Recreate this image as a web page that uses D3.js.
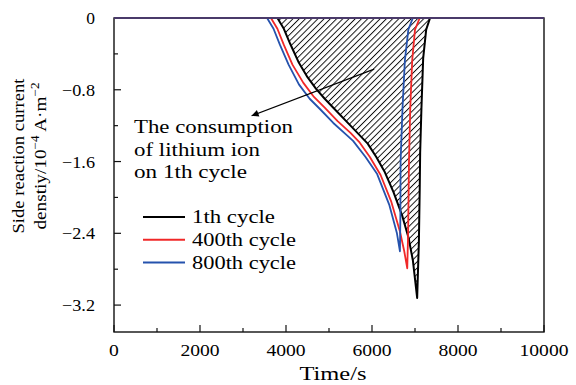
<!DOCTYPE html>
<html><head><meta charset="utf-8">
<script src="https://cdn.jsdelivr.net/npm/d3@7"></script>
<style>body{margin:0;background:#fff}svg{display:block}text{font-family:"Liberation Serif","Times New Roman",serif;fill:#000}</style>
</head><body><svg id="c" width="576" height="385"></svg>
<script>
// ---- data (time s, current density 1e-4 A/m^2) ----
const cycle1 = [[0,0],[3800,0],[3950,-0.12],[4100,-0.29],[4300,-0.5],[4500,-0.66],[4700,-0.79],[4900,-0.9],[5100,-1.0],[5500,-1.2],[5900,-1.4],[6100,-1.55],[6300,-1.72],[6500,-1.94],[6700,-2.2],[6850,-2.45],[6950,-2.7],[7050,-3.12],
  [7090,-2.5],[7110,-1.9],[7120,-1.5],[7150,-1.0],[7190,-0.45],[7260,-0.13],[7350,0],[10000,0]];
const cycle400 = [[0,0],[3650,0],[3800,-0.12],[3950,-0.3],[4150,-0.52],[4400,-0.72],[4650,-0.88],[4900,-1.0],[5200,-1.15],[5500,-1.28],[5700,-1.38],[5950,-1.55],[6200,-1.75],[6450,-2.05],[6650,-2.38],[6750,-2.6],[6820,-2.79],
  [6840,-2.4],[6860,-1.6],[6890,-1.0],[6935,-0.47],[7000,-0.13],[7110,0],[10000,0]];
const cycle800 = [[0,0],[3560,0],[3710,-0.12],[3860,-0.3],[4060,-0.52],[4300,-0.74],[4550,-0.9],[4800,-1.02],[5100,-1.17],[5400,-1.3],[5560,-1.37],[5850,-1.55],[6120,-1.74],[6400,-2.08],[6580,-2.4],[6650,-2.6],
  [6660,-2.2],[6665,-1.6],[6710,-1.0],[6765,-0.47],[6845,-0.13],[6950,0],[10000,0]];
const seriesNames = ["1th cycle","400th cycle","800th cycle"];
const seriesColors = ["#000000","#f02828","#2552ad"];
const xTicks = [0,2000,4000,6000,8000,10000];
const xMinor = [1000,3000,5000,7000,9000];
const yTicks = [0,-0.8,-1.6,-2.4,-3.2];
const yMinor = [-0.4,-1.2,-2.0,-2.8];
const annotation = ["The consumption","of lithium ion","on 1th cycle"];

const svg = d3.select("#c");
const L=114, R=544, T=18, B=332;
const x = d3.scaleLinear().domain([0,10000]).range([L,R]);
const y = d3.scaleLinear().domain([-3.5,0]).range([B,T]);

function fit(sel, w){ const n=sel.node(); const cur=n.getComputedTextLength(); if(Math.abs(cur-w)>1) sel.attr("textLength",w).attr("lengthAdjust","spacingAndGlyphs"); return sel; }

// hatch pattern
const defs = svg.append("defs");
defs.append("pattern").attr("id","hatch").attr("patternUnits","userSpaceOnUse")
  .attr("width",4.4).attr("height",10).attr("patternTransform","rotate(45)")
  .append("line").attr("x1",0.5).attr("y1",0).attr("x2",0.5).attr("y2",10)
  .attr("stroke","#000").attr("stroke-width",0.9);

const line = d3.line().x(d=>x(d[0])).y(d=>y(d[1]));
// hatched area under 1th cycle
const region = cycle1.filter(d=>d[1]<0 || (d[0]>=3800 && d[0]<=7350));
svg.append("path").attr("d",line(region)+"Z").attr("fill","url(#hatch)").attr("stroke","none");

// frame
svg.append("rect").attr("x",L).attr("y",T).attr("width",R-L).attr("height",B-T)
  .attr("fill","none").attr("stroke","#111").attr("stroke-width",1.4);

// ticks (inward)
const g = svg.append("g");
xTicks.forEach(v=>g.append("line").attr("x1",x(v)).attr("x2",x(v)).attr("y1",B).attr("y2",B-7).attr("stroke","#111").attr("stroke-width",1.2));
xMinor.forEach(v=>g.append("line").attr("x1",x(v)).attr("x2",x(v)).attr("y1",B).attr("y2",B-4).attr("stroke","#111").attr("stroke-width",1.2));
yTicks.forEach(v=>g.append("line").attr("y1",y(v)).attr("y2",y(v)).attr("x1",L).attr("x2",L+7).attr("stroke","#111").attr("stroke-width",1.2));
yMinor.forEach(v=>g.append("line").attr("y1",y(v)).attr("y2",y(v)).attr("x1",L).attr("x2",L+4).attr("stroke","#111").attr("stroke-width",1.2));
const fmt = v => v===0 ? "0" : "\u2212"+Math.abs(v).toFixed(1);
xTicks.forEach(v=>{ const s=String(v); fit(g.append("text").attr("x",x(v)).attr("y",356).attr("text-anchor","middle").attr("font-size",17.5).text(s), s.length*9.8); });
yTicks.forEach(v=>{ const t=g.append("text").attr("x",95).attr("y",y(v)+6).attr("text-anchor","end").attr("font-size",17.5).text(fmt(v)); if(v!==0) fit(t,33); });

// series
[cycle1,cycle400,cycle800].forEach((s,i)=>{
  svg.append("path").attr("d",line(s)).attr("fill","none").attr("stroke",seriesColors[i])
    .attr("stroke-width",i===0?2:1.8).attr("stroke-linejoin","round");
});
// top border (overlapping zero lines look purple in the original)
svg.append("line").attr("x1",L).attr("x2",R).attr("y1",T).attr("y2",T).attr("stroke","#4a3a6a").attr("stroke-width",2);

// axis titles
fit(svg.append("text").attr("x",333).attr("y",380).attr("text-anchor","middle").attr("font-size",18.5).text("Time/s"),67);
const yl = svg.append("g").attr("transform","translate(0,156) rotate(-90)");
fit(yl.append("text").attr("x",0).attr("y",24).attr("text-anchor","middle").attr("font-size",17.5).text("Side reaction current"),155);
const t2 = yl.append("text").attr("x",0).attr("y",46).attr("text-anchor","middle").attr("font-size",17.5);
t2.append("tspan").text("denstiy/10");
t2.append("tspan").attr("dy",-7).attr("font-size",12).text("\u22124");
t2.append("tspan").attr("dy",7).text(" A\u00B7m");
t2.append("tspan").attr("dy",-7).attr("font-size",12).text("\u22122");
fit(t2,147);

// annotation
const annW = [159,126,113];
annotation.forEach((s,i)=>fit(svg.append("text").attr("x",134).attr("y",133+i*22.5).attr("font-size",18).text(s),annW[i]));
defs.append("marker").attr("id","arr").attr("viewBox","0 0 10 10").attr("refX",10).attr("refY",5)
  .attr("markerWidth",10).attr("markerHeight",7).attr("markerUnits","userSpaceOnUse").attr("orient","auto")
  .append("path").attr("d","M0,0L10,5L0,10z").attr("fill","#000");
svg.append("line").attr("x1",x(6050)).attr("y1",y(-0.57)).attr("x2",x(3200)).attr("y2",y(-1.09))
  .attr("stroke","#000").attr("stroke-width",1.2).attr("marker-end","url(#arr)");

// legend
const legW = [83,104,104];
seriesNames.forEach((n,i)=>{
  const ly = 217 + i*22.8;
  svg.append("line").attr("x1",143).attr("x2",185).attr("y1",ly).attr("y2",ly).attr("stroke",seriesColors[i]).attr("stroke-width",2);
  fit(svg.append("text").attr("x",192).attr("y",ly+6).attr("font-size",18).text(n),legW[i]);
});
</script></body></html>
